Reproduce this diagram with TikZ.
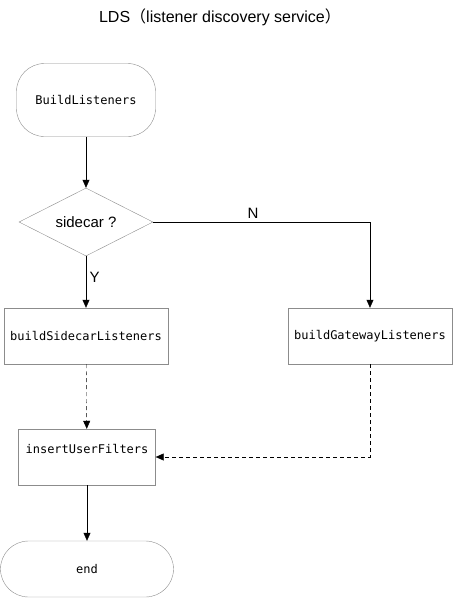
\documentclass[tikz,border=0pt]{standalone}
\usepackage{fontspec}
\setmainfont{Liberation Sans}
\setmonofont{DejaVu Sans Mono}
\newfontfamily\cjk{Noto Sans CJK SC}
\usetikzlibrary{shapes.geometric, arrows.meta, positioning}
\definecolor{boxgray}{RGB}{140, 140, 140}

\begin{document}
\begin{tikzpicture}[x=1pt, y=-1pt,
    box/.style={draw=boxgray, rectangle, inner sep=0pt, minimum width=164pt, minimum height=56pt, font=\fontsize{12}{14}\ttfamily},
    terminal/.style={box, rounded corners=28pt},
    decision/.style={draw=boxgray, diamond, aspect=2, inner sep=0pt, minimum width=134pt, minimum height=68pt, font=\fontsize{15}{18}\selectfont},
    flow/.style={-{Triangle[length=8pt, width=7pt]}, black},
    maybe/.style={flow, dash pattern=on 4pt off 3pt},
    lbl/.style={font=\fontsize{15}{18}\selectfont}]
\useasboundingbox (0,0) rectangle (453,598);
\node[lbl, font=\fontsize{16}{19}\selectfont] (title) at (220,17) {LDS{\cjk（}listener discovery service{\cjk）}};
\node[terminal, minimum width=139pt, minimum height=73pt] (start) at (86,100) {BuildListeners};
\node[decision] (isSidecar) at (86,222) {sidecar ?};
\node[box] (buildSc) at (86,336) {buildSidecarListeners};
\node[box] (buildGw) at (370,336) {buildGatewayListeners};
\node[box, minimum width=137pt, text depth=16pt] (filters) at (87,457) {insertUserFilters};
\node[terminal, minimum width=173pt] (stop) at (87,569) {end};

\draw[flow] (start) -- (isSidecar);
\draw[flow] (isSidecar) -- node[lbl, right, pos=0.4] {Y} (buildSc);
\draw[flow] (isSidecar.east) -| node[lbl, above, pos=0.23] {N} (buildGw);
\draw[maybe] (buildSc) -- (filters);
\draw[maybe] (buildGw) |- (filters.east);
\draw[flow] (filters) -- (stop);
\end{tikzpicture}
\end{document}
